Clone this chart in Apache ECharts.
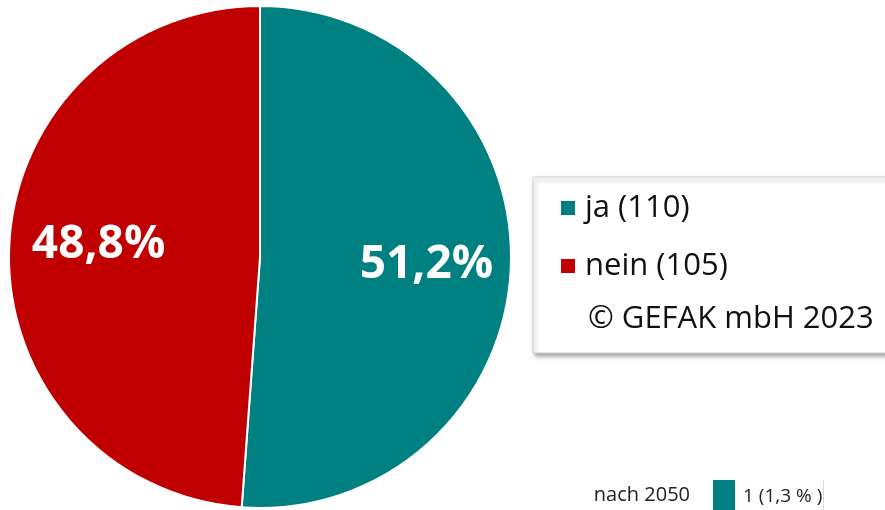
<!DOCTYPE html>
<html>
<head>
  <meta charset="utf-8" />
  <title>ECharts</title>
  <script src="https://cdn.jsdelivr.net/npm/echarts@6/dist/echarts.min.js"></script>
  <style>
    html, body {
      height: 100%;
      margin: 0;
      padding: 0;
      overflow: hidden;
      background: #ffffff;
    }

    #main {
      width: 885px;
      height: 510px;
    }
  </style>
</head>
<body>
  <div id="main"></div>

  <script type="text/javascript">
    // pie data
    const answers = ['ja', 'nein'];
    const counts = [110, 105];
    const colors = ['#008080', '#C00000'];

    // fragment of the neighbouring bar chart (bottom right)
    const barCategories = ['nach 2050'];
    const barValues = [1];
    const barShares = ['1,3'];

    const copyright = '\u00A9 GEFAK mbH 2023';
    const font = '"Open Sans", "Noto Sans", sans-serif';

    const total = counts.reduce((a, b) => a + b, 0);
    const pieData = answers.map((a, i) => ({
      name: a + ' (' + counts[i] + ')',
      value: counts[i],
      itemStyle: { color: colors[i] }
    }));

    // nudge the percentage labels outward from the default inside spot
    const labelShift = [
      { dx: 38, dy: 3 },
      { dx: -33, dy: -7 }
    ];

    const chart = echarts.init(document.getElementById('main'));

    const option = {
      backgroundColor: '#ffffff',
      animation: false,
      legend: {
        orient: 'vertical',
        left: 533,
        top: 177,
        padding: [13, 220, 69, 26],
        itemGap: 22,
        itemWidth: 16,
        itemHeight: 16,
        icon: 'rect',
        backgroundColor: '#ffffff',
        borderColor: '#d0d0d0',
        borderWidth: 1,
        shadowColor: 'rgba(0,0,0,0.35)',
        shadowBlur: 4,
        shadowOffsetX: 2,
        shadowOffsetY: 3,
        selectedMode: false,
        textStyle: {
          fontFamily: font,
          fontSize: 31,
          lineHeight: 36,
          color: '#111111',
          padding: [0, 0, 0, 4]
        },
        data: pieData.map(d => d.name)
      },
      graphic: [{
        type: 'text',
        left: 588,
        top: 304,
        z: 100,
        style: {
          text: copyright,
          fontFamily: font,
          fontSize: 31,
          fill: '#111111'
        }
      }],
      // the bar grid runs off the right edge; only 0..7.8 of the axis is visible
      grid: {
        left: 713,
        top: 480,
        right: 0,
        height: 30
      },
      xAxis: {
        type: 'value',
        min: 0,
        max: 7.8,
        interval: 5,
        axisLine: { show: false },
        axisTick: { show: false },
        axisLabel: { show: false },
        splitLine: {
          showMaxLine: false,
          lineStyle: { color: '#d9d9d9', width: 1 }
        }
      },
      yAxis: {
        type: 'category',
        data: barCategories,
        axisLine: { show: false },
        axisTick: { show: false },
        axisLabel: {
          margin: 23,
          fontFamily: font,
          fontSize: 20,
          color: '#222222',
          verticalAlign: 'middle'
        }
      },
      series: [
        {
          type: 'pie',
          center: [260, 257],
          radius: [0, 251],
          startAngle: 90,
          clockwise: true,
          avoidLabelOverlap: false,
          itemStyle: { borderColor: '#ffffff', borderWidth: 2 },
          emphasis: { disabled: true },
          label: {
            show: true,
            position: 'inside',
            fontFamily: font,
            fontSize: 46,
            fontWeight: 'bold',
            color: '#ffffff',
            formatter: p => (p.value / total * 100).toFixed(1).replace('.', ',') + '%'
          },
          labelLine: { show: false },
          labelLayout: p => labelShift[p.dataIndex],
          data: pieData
        },
        {
          type: 'bar',
          barWidth: '100%',
          itemStyle: { color: '#008080' },
          label: {
            show: true,
            position: 'right',
            distance: 8,
            offset: [0, 2],
            fontFamily: font,
            fontSize: 19,
            color: '#222222',
            formatter: p => p.value + ' (' + barShares[p.dataIndex] + ' % )'
          },
          data: barValues
        }
      ]
    };

    chart.setOption(option);
  </script>
</body>
</html>
